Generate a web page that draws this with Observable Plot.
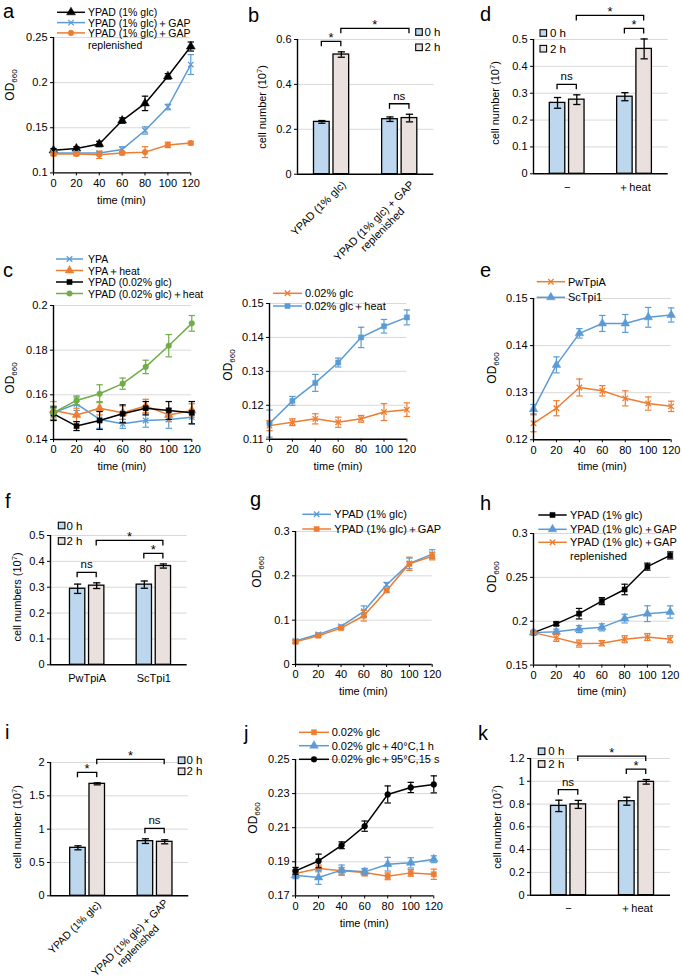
<!DOCTYPE html>
<html>
<head>
<meta charset="utf-8">
<script src="https://cdn.jsdelivr.net/npm/d3@7"></script>
<script src="https://cdn.jsdelivr.net/npm/@observablehq/plot@0.6"></script>
<style>
html,body{margin:0;padding:0;background:#fff;}
#fig{position:relative;width:682px;height:980px;overflow:hidden;font-family:"Liberation Sans",Arial,sans-serif;}
#fig svg{position:absolute;overflow:visible;max-width:none;}
</style>
</head>
<body>
<div id="fig"></div>
<script>
// ================= DATA =================
const times = [0, 20, 40, 60, 80, 100, 120];

// panel a
const aLabels = ["YPAD (1% glc)", "YPAD (1% glc)＋GAP", "YPAD (1% glc)＋GAP\nreplenished"];
const aYPAD    = [0.125, 0.127, 0.132, 0.158, 0.177, 0.207, 0.240];
const aYPADErr = [0.002, 0.002, 0.003, 0.003, 0.008, 0.003, 0.005];
const aGAP     = [0.122, 0.122, 0.122, 0.126, 0.147, 0.173, 0.220];
const aGAPErr  = [0.001, 0.001, 0.001, 0.003, 0.004, 0.003, 0.011];
const aRep     = [0.121, 0.121, 0.120, 0.122, 0.123, 0.131, 0.133];
const aRepErr  = [0.002, 0.002, 0.004, 0.002, 0.006, 0.003, 0.002];
const aTicks   = [0.1, 0.15, 0.2, 0.25];

// panel b
const bGroups = ["YPAD (1% glc)", "YPAD (1% glc) + GAP\nreplenished"];
const b0h = [0.233, 0.245], b0hErr = [0.006, 0.010];
const b2h = [0.533, 0.250], b2hErr = [0.012, 0.017];
const bTicks = [0, 0.2, 0.4, 0.6];
const bSig = [{from: [0, 0], to: [0, 1], label: "*"}, {from: [0, 1], to: [1, 1], label: "*", long: true}, {from: [1, 0], to: [1, 1], label: "ns"}];

// panel d
const dGroups = ["−", "＋heat"];
const d0h = [0.264, 0.287], d0hErr = [0.020, 0.015];
const d2h = [0.276, 0.465], d2hErr = [0.018, 0.037];
const dTicks = [0, 0.1, 0.2, 0.3, 0.4, 0.5];
const dSig = [{from: [0, 0], to: [0, 1], label: "ns"}, {from: [1, 0], to: [1, 1], label: "*"}, {from: [0, 1], to: [1, 1], label: "*", long: true}];

// panel c (left)
const cLabels = ["YPA", "YPA＋heat", "YPAD (0.02% glc)", "YPAD (0.02% glc)＋heat"];
const cYPA        = [0.152, 0.156, 0.149, 0.147, 0.1485, 0.149, 0.150];
const cYPAErr     = [0.003, 0.003, 0.004, 0.002, 0.003, 0.004, 0.003];
const cYPAheat    = [0.153, 0.151, 0.154, 0.152, 0.155, 0.151, 0.153];
const cYPAheatErr = [0.004, 0.003, 0.003, 0.003, 0.003, 0.003, 0.003];
const cYPAD       = [0.1515, 0.146, 0.1485, 0.1515, 0.154, 0.153, 0.152];
const cYPADErr    = [0.003, 0.002, 0.004, 0.004, 0.003, 0.004, 0.005];
const cYPADheat   = [0.152, 0.1575, 0.1605, 0.165, 0.1725, 0.182, 0.192];
const cYPADheatErr= [0.002, 0.002, 0.004, 0.0025, 0.003, 0.005, 0.0035];
const cTicks = [0.14, 0.16, 0.18, 0.2];

// panel c (right)
const c2Labels = ["0.02% glc", "0.02% glc＋heat"];
const c2Glc     = [0.114, 0.115, 0.116, 0.115, 0.116, 0.118, 0.1187];
const c2GlcErr  = [0.0015, 0.001, 0.0015, 0.0015, 0.001, 0.0025, 0.002];
const c2Heat    = [0.1146, 0.1213, 0.1266, 0.1326, 0.140, 0.1433, 0.1459];
const c2HeatErr = [0.004, 0.0013, 0.0025, 0.0013, 0.003, 0.002, 0.0022];
const c2Ticks = [0.11, 0.12, 0.13, 0.14, 0.15];

// panel e
const eLabels = ["PwTpiA", "ScTpi1"];
const ePw    = [0.1235, 0.1267, 0.1311, 0.1304, 0.1288, 0.1277, 0.1271];
const ePwErr = [0.0018, 0.0016, 0.0018, 0.0011, 0.0016, 0.0014, 0.0011];
const eSc    = [0.1265, 0.1359, 0.1426, 0.1447, 0.1447, 0.1460, 0.1465];
const eScErr = [0.0010, 0.0017, 0.0010, 0.0017, 0.0019, 0.0021, 0.0015];
const eTicks = [0.12, 0.13, 0.14, 0.15];

// panel f
const fGroups = ["PwTpiA", "ScTpi1"];
const f0h = [0.294, 0.310], f0hErr = [0.018, 0.014];
const f2h = [0.306, 0.382], f2hErr = [0.011, 0.008];
const fTicks = [0, 0.1, 0.2, 0.3, 0.4, 0.5];
const fSig = [{from: [0, 0], to: [0, 1], label: "ns"}, {from: [1, 0], to: [1, 1], label: "*"}, {from: [0, 1], to: [1, 1], label: "*", long: true}];

// panel g
const gLabels = ["YPAD (1% glc)", "YPAD (1% glc)＋GAP"];
const gYPAD    = [0.053, 0.068, 0.086, 0.120, 0.180, 0.228, 0.249];
const gYPADErr = [0.003, 0.003, 0.003, 0.012, 0.005, 0.012, 0.010];
const gGAP     = [0.051, 0.065, 0.082, 0.110, 0.167, 0.227, 0.244];
const gGAPErr  = [0.003, 0.003, 0.003, 0.012, 0.004, 0.015, 0.008];
const gTicks = [0, 0.1, 0.2, 0.3];

// panel h
const hLabels = ["YPAD (1% glc)", "YPAD (1% glc)＋GAP", "YPAD (1% glc)＋GAP\nreplenished"];
const hYPAD    = [0.187, 0.197, 0.2086, 0.2229, 0.2362, 0.2622, 0.275];
const hYPADErr = [0.001, 0.002, 0.006, 0.004, 0.006, 0.004, 0.004];
const hGAP     = [0.187, 0.188, 0.191, 0.193, 0.203, 0.2086, 0.2105];
const hGAPErr  = [0.001, 0.003, 0.004, 0.004, 0.005, 0.009, 0.007];
const hRep     = [0.187, 0.181, 0.1745, 0.175, 0.1795, 0.182, 0.1795];
const hRepErr  = [0.001, 0.004, 0.004, 0.003, 0.004, 0.004, 0.004];
const hTicks = [0.15, 0.2, 0.25, 0.3];

// panel i
const iGroups = ["YPAD (1% glc)", "YPAD (1% glc) + GAP\nreplenished"];
const i0h = [0.72, 0.82], i0hErr = [0.030, 0.035];
const i2h = [1.68, 0.81], i2hErr = [0.015, 0.030];
const iTicks = [0, 0.5, 1, 1.5, 2];
const iSig = [{from: [0, 0], to: [0, 1], label: "*"}, {from: [0, 1], to: [1, 1], label: "*", long: true}, {from: [1, 0], to: [1, 1], label: "ns"}];

// panel j
const jLabels = ["0.02% glc", "0.02% glc＋40°C,1 h", "0.02% glc＋95°C,15 s"];
const jGlc    = [0.1831, 0.1861, 0.1847, 0.1837, 0.1815, 0.1835, 0.1827];
const jGlcErr = [0.002, 0.002, 0.002, 0.002, 0.002, 0.002, 0.003];
const j40     = [0.1821, 0.1808, 0.1851, 0.1841, 0.1886, 0.1894, 0.1915];
const j40Err  = [0.002, 0.004, 0.003, 0.002, 0.004, 0.003, 0.002];
const j95     = [0.1847, 0.1905, 0.1997, 0.2109, 0.2295, 0.2336, 0.2354];
const j95Err  = [0.002, 0.004, 0.002, 0.003, 0.005, 0.003, 0.005];
const jTicks = [0.17, 0.19, 0.21, 0.23, 0.25];

// panel k
const kGroups = ["−", "＋heat"];
const k0h = [0.784, 0.825], k0hErr = [0.050, 0.035];
const k2h = [0.797, 0.995], k2hErr = [0.035, 0.020];
const kTicks = [0, 0.2, 0.4, 0.6, 0.8, 1, 1.2];
const kSig = [{from: [0, 0], to: [0, 1], label: "ns"}, {from: [1, 0], to: [1, 1], label: "*"}, {from: [0, 1], to: [1, 1], label: "*", long: true}];

const barLegend = ["0 h", "2 h"];

// ================= STYLE / LAYOUT =================
const FONT = '"Liberation Sans", Arial, Helvetica, sans-serif';
const GRID = "#d9d9d9";
const BLACK = "#000", BLUE = "#5b9bd5", ORANGE = "#ed7d31", GREEN = "#70ad47";
const FILL0 = "#bdd7ee", FILL2 = "#eae0dd";
const BAR_OFF = 0.143, BAR_HALF = 0.115;
const M = {l: 48, r: 12, t: 12, b: 38};

const fig = document.getElementById("fig");
const capSymbol = {draw(ctx, size) { const w = Math.sqrt(size / Math.PI); ctx.moveTo(-w, 0); ctx.lineTo(w, 0); }};
const d3sym = {triangle: d3.symbolTriangle, times: d3.symbolTimes, circle: d3.symbolCircle, square: d3.symbolSquare};
const measureCtx = document.createElement("canvas").getContext("2d");
function measure(text, size) { measureCtx.font = `${size}px ${FONT}`; return measureCtx.measureText(text).width; }
const fmt = d => String(d);

function place(svg, x, y) { svg.style.left = x + "px"; svg.style.top = y + "px"; fig.appendChild(svg); }
function baseStyle() { return {fontFamily: FONT, fontSize: "11px", color: "#000", background: "transparent", overflow: "visible"}; }

function linePanel(box, yDomain, yTicks, series) {
  const marks = [Plot.ruleY(yTicks.slice(1), {stroke: GRID, strokeWidth: 1})];
  for (const s of series) {
    const rows = times.map((t, i) => ({t, m: s.mean[i], lo: s.mean[i] - s.err[i], hi: s.mean[i] + s.err[i]}));
    const hollow = s.symbol === "times";
    marks.push(
      Plot.line(rows, {x: "t", y: "m", stroke: s.color, strokeWidth: 1.5}),
      Plot.ruleX(rows, {x: "t", y1: "lo", y2: "hi", stroke: s.color, strokeWidth: 1.2}),
      Plot.dot(rows, {x: "t", y: "lo", symbol: capSymbol, r: 3.2, fill: "none", stroke: s.color, strokeWidth: 1.2}),
      Plot.dot(rows, {x: "t", y: "hi", symbol: capSymbol, r: 3.2, fill: "none", stroke: s.color, strokeWidth: 1.2}),
      Plot.dot(rows, {x: "t", y: "m", symbol: s.symbol, r: s.r, fill: hollow ? "none" : s.color, stroke: s.color, strokeWidth: hollow ? 1.3 : 0.5})
    );
  }
  marks.push(Plot.ruleX([0], {stroke: "#000", strokeWidth: 1.4}), Plot.ruleY([yDomain[0]], {stroke: "#000", strokeWidth: 1.4}));
  const chart = Plot.plot({
    width: box.R - box.L + M.l + M.r, height: box.B - box.T + M.t + M.b,
    marginLeft: M.l, marginRight: M.r, marginTop: M.t, marginBottom: M.b,
    style: baseStyle(),
    x: {domain: [0, 120], ticks: times, tickFormat: fmt, tickSize: 3, tickPadding: 3, label: null},
    y: {domain: yDomain, ticks: yTicks, tickFormat: fmt, tickSize: 3, tickPadding: 3, label: null},
    marks
  });
  place(chart, box.L - M.l, box.T - M.t);
  return chart;
}

function barPanel(box, xDomain, yTicks, groups, m0, e0, m2, e2, sig, rot) {
  const yDomain = [yTicks[0], yTicks[yTicks.length - 1]];
  const rows = [];
  groups.forEach((g, i) => {
    rows.push({g: i, s: 0, c: i - BAR_OFF, m: m0[i], lo: m0[i] - e0[i], hi: m0[i] + e0[i]});
    rows.push({g: i, s: 1, c: i + BAR_OFF, m: m2[i], lo: m2[i] - e2[i], hi: m2[i] + e2[i]});
  });
  const marks = [
    Plot.ruleY(yTicks.slice(1), {stroke: GRID, strokeWidth: 1}),
    Plot.rect(rows.filter(r => r.s === 0), {x1: r => r.c - BAR_HALF, x2: r => r.c + BAR_HALF, y1: 0, y2: "m", fill: FILL0, stroke: "#000", strokeWidth: 1.3}),
    Plot.rect(rows.filter(r => r.s === 1), {x1: r => r.c - BAR_HALF, x2: r => r.c + BAR_HALF, y1: 0, y2: "m", fill: FILL2, stroke: "#000", strokeWidth: 1.3}),
    Plot.ruleX(rows, {x: "c", y1: "lo", y2: "hi", stroke: "#000", strokeWidth: 1.3}),
    Plot.dot(rows, {x: "c", y: "lo", symbol: capSymbol, r: 3.6, fill: "none", stroke: "#000", strokeWidth: 1.3}),
    Plot.dot(rows, {x: "c", y: "hi", symbol: capSymbol, r: 3.6, fill: "none", stroke: "#000", strokeWidth: 1.3}),
    Plot.ruleX([xDomain[0]], {stroke: "#000", strokeWidth: 1.4}),
    Plot.ruleY([0], {stroke: "#000", strokeWidth: 1.4})
  ];
  if (rot) {
    groups.forEach((lab, i) => {
      const w = measure(lab.split("\n")[0], rot.fs);
      const h = (w / 2) * Math.SQRT1_2;
      marks.push(Plot.text([i], {x: d => d, frameAnchor: "bottom", text: () => lab, rotate: -45,
        textAnchor: "middle", lineAnchor: "top", lineHeight: 1.1,
        dx: rot.off[i][0] - h, dy: rot.off[i][1] + h, fontSize: rot.fs}));
    });
  }
  const chart = Plot.plot({
    width: box.R - box.L + M.l + M.r, height: box.B - box.T + M.t + M.b,
    marginLeft: M.l, marginRight: M.r, marginTop: M.t, marginBottom: M.b,
    style: baseStyle(),
    x: rot ? {domain: xDomain, axis: null}
           : {domain: xDomain, ticks: [0, 1], tickFormat: d => groups[d], tickSize: 0, tickPadding: 9, label: null},
    y: {domain: yDomain, ticks: yTicks, tickFormat: fmt, tickSize: 3, tickPadding: 3, label: null},
    marks
  });
  place(chart, box.L - M.l, box.T - M.t);
  // significance brackets, positioned with the chart's own scales
  const xs = chart.scale("x"), ys = chart.scale("y");
  const svg = d3.select(chart);
  const g = svg.append("g").attr("fill", "none").attr("stroke", "#000").attr("stroke-width", 1.3);
  const tg = svg.append("g").attr("font-family", FONT).attr("text-anchor", "middle").attr("fill", "#000");
  for (const s of sig) {
    const r1 = rows.find(r => r.g === s.from[0] && r.s === s.from[1]);
    const r2 = rows.find(r => r.g === s.to[0] && r.s === s.to[1]);
    const inRange = rows.filter(r => r.c >= r1.c - 1e-9 && r.c <= r2.c + 1e-9);
    const top = Math.min(...inRange.map(r => ys.apply(r.hi)));
    const y = top - (s.long ? 23 : 10);
    const x1 = xs.apply(r1.c), x2 = xs.apply(r2.c);
    g.append("path").attr("d", `M${x1},${y + 5}V${y}H${x2}V${y + 5}`);
    tg.append("text").attr("x", (x1 + x2) / 2).attr("y", s.label === "*" ? y + 1 : y - 4)
      .attr("font-size", s.label === "*" ? 13 : 11.5).text(s.label);
  }
  return chart;
}

// ================= PANELS =================
const P = {
  a:  {L: 52.7,  R: 190,   T: 37.3,  B: 172.7},
  b:  {L: 296.7, R: 433,   T: 39,    B: 173.7},
  d:  {L: 533.3, R: 668,   T: 39,    B: 173.3},
  c1: {L: 52.7,  R: 191,   T: 305,   B: 439},
  c2: {L: 269.3, R: 406.7, T: 303.3, B: 439},
  e:  {L: 533.3, R: 671,   T: 297.7, B: 439},
  f:  {L: 50,    R: 186.7, T: 535,   B: 664.3},
  g:  {L: 295,   R: 431.7, T: 531,   B: 664},
  h:  {L: 533.3, R: 670,   T: 532.7, B: 664.3},
  i:  {L: 50,    R: 188.3, T: 761.7, B: 895},
  j:  {L: 295,   R: 433.3, T: 759.3, B: 895.7},
  k:  {L: 530,   R: 670,   T: 758.3, B: 895}
};

const sA = [
  {mean: aYPAD, err: aYPADErr, color: BLACK, symbol: "triangle", r: 3.3},
  {mean: aGAP, err: aGAPErr, color: BLUE, symbol: "times", r: 2.6},
  {mean: aRep, err: aRepErr, color: ORANGE, symbol: "circle", r: 2.8}
];
linePanel(P.a, [0.1, 0.25], aTicks, sA);

const sC = [
  {mean: cYPA, err: cYPAErr, color: BLUE, symbol: "times", r: 2.6},
  {mean: cYPAheat, err: cYPAheatErr, color: ORANGE, symbol: "triangle", r: 3.2},
  {mean: cYPAD, err: cYPADErr, color: BLACK, symbol: "square", r: 2.9},
  {mean: cYPADheat, err: cYPADheatErr, color: GREEN, symbol: "circle", r: 2.8}
];
linePanel(P.c1, [0.14, 0.2], cTicks, sC);

const sC2 = [
  {mean: c2Glc, err: c2GlcErr, color: ORANGE, symbol: "times", r: 2.6},
  {mean: c2Heat, err: c2HeatErr, color: BLUE, symbol: "square", r: 2.9}
];
linePanel(P.c2, [0.11, 0.15], c2Ticks, sC2);

const sE = [
  {mean: ePw, err: ePwErr, color: ORANGE, symbol: "times", r: 2.6},
  {mean: eSc, err: eScErr, color: BLUE, symbol: "triangle", r: 3.2}
];
linePanel(P.e, [0.12, 0.15], eTicks, sE);

const sG = [
  {mean: gYPAD, err: gYPADErr, color: BLUE, symbol: "times", r: 2.6},
  {mean: gGAP, err: gGAPErr, color: ORANGE, symbol: "square", r: 2.9}
];
linePanel(P.g, [0, 0.3], gTicks, sG);

const sH = [
  {mean: hYPAD, err: hYPADErr, color: BLACK, symbol: "square", r: 2.9},
  {mean: hGAP, err: hGAPErr, color: BLUE, symbol: "triangle", r: 3.2},
  {mean: hRep, err: hRepErr, color: ORANGE, symbol: "times", r: 2.6}
];
linePanel(P.h, [0.15, 0.3], hTicks, sH);

const sJ = [
  {mean: jGlc, err: jGlcErr, color: ORANGE, symbol: "square", r: 2.9},
  {mean: j40, err: j40Err, color: BLUE, symbol: "triangle", r: 3.2},
  {mean: j95, err: j95Err, color: BLACK, symbol: "circle", r: 2.9}
];
linePanel(P.j, [0.17, 0.25], jTicks, sJ);

barPanel(P.b, [-0.5, 1.5], bTicks, bGroups, b0h, b0hErr, b2h, b2hErr, bSig, {fs: 11, off: [[9, 5], [9, 5]]});
barPanel(P.d, [-0.5, 1.5], dTicks, dGroups, d0h, d0hErr, d2h, d2hErr, dSig, null);
barPanel(P.f, [-0.55, 1.5], fTicks, fGroups, f0h, f0hErr, f2h, f2hErr, fSig, null);
barPanel(P.i, [-0.55, 1.5], iTicks, iGroups, i0h, i0hErr, i2h, i2hErr, iSig, {fs: 10.5, off: [[8, 4], [8, 2]]});
barPanel(P.k, [-0.56, 1.5], kTicks, kGroups, k0h, k0hErr, k2h, k2hErr, kSig, null);

// ================= OVERLAY: letters, titles, legends =================
const ov = d3.create("svg").attr("width", 682).attr("height", 980)
  .style("left", "0px").style("top", "0px").attr("font-family", FONT);
fig.appendChild(ov.node());

const letters = [["a", 3, 18], ["b", 248, 21.5], ["d", 480, 20.5], ["c", 3, 277], ["e", 480, 277],
  ["f", 5, 508], ["g", 250, 506], ["h", 480, 510], ["i", 5, 739], ["j", 244, 740], ["k", 478, 740]];
for (const [t, x, y] of letters) ov.append("text").attr("x", x).attr("y", y).attr("font-size", 20).text(t);

function odTitle(x, y) {
  const t = ov.append("text").attr("transform", `translate(${x + 4},${y}) rotate(-90)`).attr("text-anchor", "middle").attr("font-size", 12);
  t.append("tspan").text("OD");
  t.append("tspan").attr("font-size", 8).attr("dy", 3).text("660");
}
function cellTitle(x, y, word) {
  const t = ov.append("text").attr("transform", `translate(${x + 4},${y}) rotate(-90)`).attr("text-anchor", "middle").attr("font-size", 11);
  t.append("tspan").text(word + " (10");
  t.append("tspan").attr("font-size", 7.5).attr("dy", -4).text("7");
  t.append("tspan").attr("dy", 4).text(")");
}
function timeTitle(box) {
  ov.append("text").attr("x", (box.L + box.R) / 2).attr("y", box.B + 31).attr("text-anchor", "middle").attr("font-size", 11).text("time (min)");
}
odTitle(10, 85); odTitle(10, 378); odTitle(228.3, 365); odTitle(491.7, 368);
odTitle(256.7, 572); odTitle(491.7, 577); odTitle(253.3, 818);
cellTitle(261.7, 107, "cell number"); cellTitle(495, 103, "cell number"); cellTitle(16.7, 597, "cell numbers");
cellTitle(16.7, 827, "cell number"); cellTitle(496.7, 827, "cell number");
[P.a, P.c1, P.c2, P.e, P.g, P.h, P.j].forEach(timeTitle);

function lineLegend(labels, series, x1, x2, tx, rows, lineGap, fs) {
  labels.forEach((lab, i) => {
    const s = series[i], y = rows[i];
    ov.append("line").attr("x1", x1).attr("x2", x2).attr("y1", y).attr("y2", y).attr("stroke", s.color).attr("stroke-width", 1.5);
    const hollow = s.symbol === "times";
    ov.append("path").attr("d", d3.symbol(d3sym[s.symbol], Math.PI * s.r * s.r)())
      .attr("transform", `translate(${(x1 + x2) / 2},${y})`)
      .attr("fill", hollow ? "none" : s.color).attr("stroke", s.color).attr("stroke-width", hollow ? 1.3 : 0.5);
    lab.split("\n").forEach((part, k) => {
      ov.append("text").attr("x", tx).attr("y", y + 4 + k * lineGap).attr("font-size", fs || 11).text(part);
    });
  });
}
lineLegend(aLabels, sA, 57, 85, 88, [12.3, 22.6, 32.9], 12.5, 10.5);
lineLegend(cLabels, sC, 56, 83, 88, [259, 270.5, 282, 293.5], 12, 10.5);
lineLegend(c2Labels, sC2, 273, 302, 305, [293.3, 306], 12);
lineLegend(eLabels, sE, 536.7, 565, 568, [281.7, 297.3], 12);
lineLegend(gLabels, sG, 302.3, 331, 334.3, [514.3, 529], 12);
lineLegend(hLabels, sH, 538.3, 566.7, 570, [515, 529.3, 542.3], 13.7);
lineLegend(jLabels, sJ, 299, 329, 331.7, [732.3, 745.7, 759.3], 12);

function boxLegend(x, tx, rows) {
  [FILL0, FILL2].forEach((fill, i) => {
    ov.append("rect").attr("x", x).attr("y", rows[i] - 3.3).attr("width", 6.6).attr("height", 6.6)
      .attr("fill", fill).attr("stroke", "#000").attr("stroke-width", 1.1);
    ov.append("text").attr("x", tx).attr("y", rows[i] + 4).attr("font-size", 11.5).text(barLegend[i]);
  });
}
boxLegend(415.7, 424.5, [32, 47.3]);
boxLegend(540, 550, [33, 48.7]);
boxLegend(58.3, 66.5, [525.5, 541]);
boxLegend(178.3, 186.5, [760.3, 771.3]);
boxLegend(538.3, 548.3, [751.3, 764]);
</script>
</body>
</html>
